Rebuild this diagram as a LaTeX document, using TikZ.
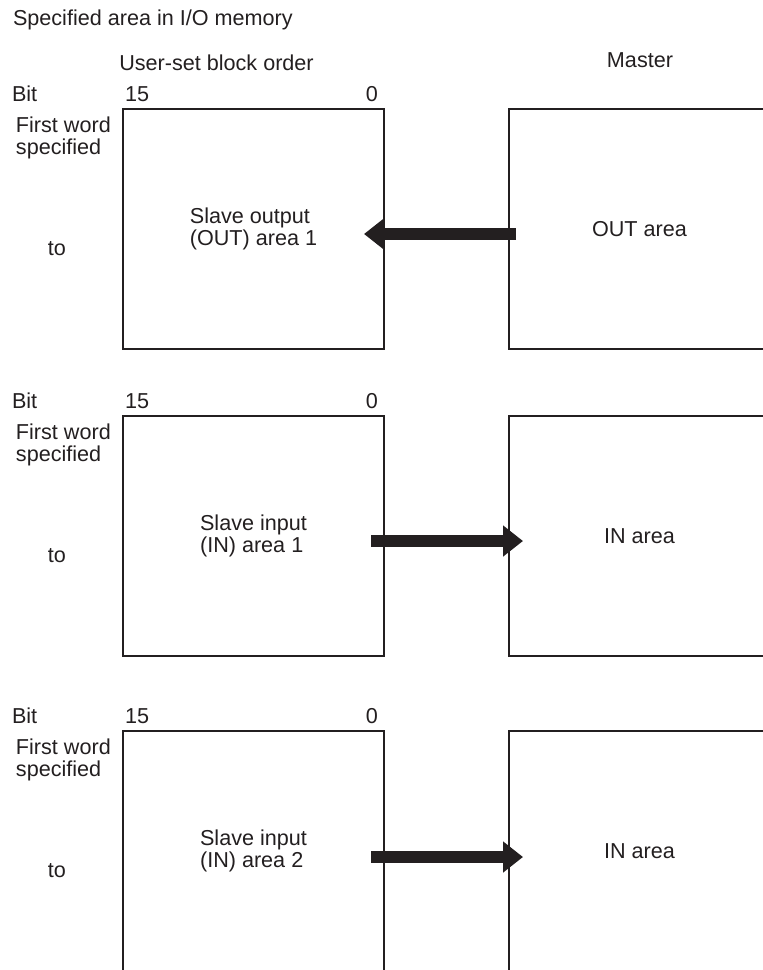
\documentclass[tikz,border=0pt]{standalone}
\usepackage{fontspec}
\setmainfont{Liberation Sans}
\usetikzlibrary{arrows.meta}
\definecolor{ink}{HTML}{231F20}

\begin{document}
\begin{tikzpicture}[x=0.5pt,y=-0.5pt,
    every node/.style={font=\fontsize{10.8}{10.9}\selectfont,text=ink,inner sep=0pt,outer sep=0pt},
    area/.style={draw=ink,line width=0.65pt,minimum width=130.5pt,minimum height=120pt,align=left},
    xfer/.style={draw=ink,line width=6.3pt,-{Triangle[length=10pt,width=15pt]}}]
    \useasboundingbox (0,0) rectangle (763,970);
    \clip (0,0) rectangle (763,970);

    % headings
    \node[anchor=base west] (title) at (13,25) {Specified area in I/O memory};
    \node[anchor=base] (order) at (216.5,70) {User-set block order};
    \node[anchor=base] (master) at (640,67) {Master};

    % one row per block: word range on the left, master area on the right
    \foreach \i/\ytop/\slv/\mst in {1/109/{Slave output\\(OUT) area 1}/{OUT area},
                                    2/416/{Slave input\\(IN) area 1}/{IN area},
                                    3/731/{Slave input\\(IN) area 2}/{IN area}} {
      \node[anchor=base west] (bit\i) at (12,\ytop-8) {Bit};
      \node[anchor=base west] (msb\i) at (125,\ytop-8) {15};
      \node[anchor=base east] (lsb\i) at (378,\ytop-8) {0};
      \node[anchor=north west,align=left] (first\i) at (16,\ytop+8) {First word\\specified};
      \node[anchor=base] (to\i) at (57,\ytop+146) {to};
      \node[area] (slave\i) at (253.5,\ytop+120) {\slv};
      \node[area] (master\i) at (639.5,\ytop+120) {\mst};
    }

    % transfer direction (OUT: master -> slave, IN: slave -> master)
    \draw[xfer,shorten <=-3.5pt,shorten >=-10pt] ([yshift=-2.5pt]master1.west) -- ([yshift=-2.5pt]slave1.east);
    \draw[xfer,shorten <=-6.5pt,shorten >=-7pt] ([yshift=-2.5pt]slave2.east) -- ([yshift=-2.5pt]master2.west);
    \draw[xfer,shorten <=-6.5pt,shorten >=-7pt] ([yshift=-3pt]slave3.east) -- ([yshift=-3pt]master3.west);
\end{tikzpicture}
\end{document}
